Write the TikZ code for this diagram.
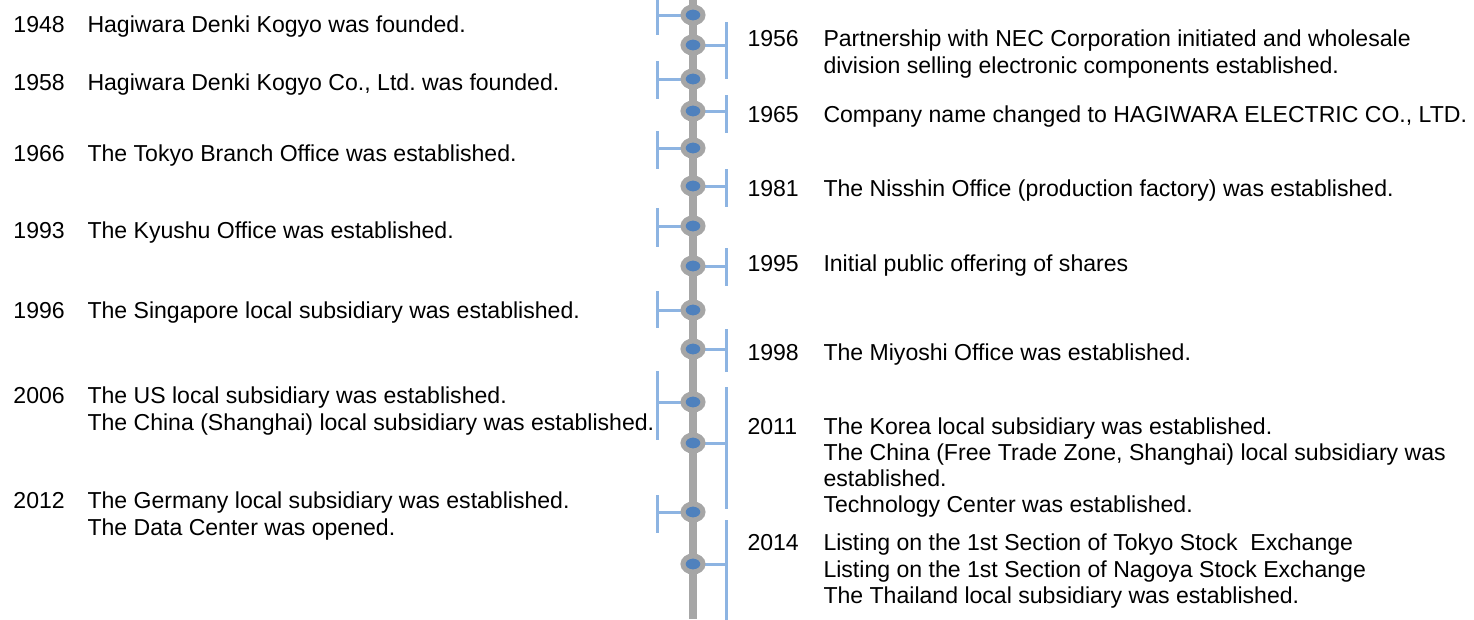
\documentclass[tikz,border=0pt]{standalone}
\usepackage{fontspec}
\setmainfont{Liberation Sans}
\usetikzlibrary{shapes.geometric}
\frenchspacing

\definecolor{spinegray}{RGB}{166,166,166}
\definecolor{dotblue}{RGB}{79,129,189}
\definecolor{brackblue}{RGB}{141,180,226}

\tikzset{every picture/.style={line width=0.75pt}}
\tikzset{
  spine/.style={draw=spinegray, line width=6pt},
  brack/.style={draw=brackblue, line width=2.25pt},
  yeardot/.style={ellipse, draw=spinegray, fill=dotblue, line width=3.75pt, minimum width=15pt, minimum height=12pt, inner sep=0pt},
  entry/.style={anchor=base west, inner sep=0pt, font=\fontsize{17.3pt}{20pt}\selectfont}
}

\begin{document}
\begin{tikzpicture}[x=0.75pt,y=0.75pt,yscale=-1,xscale=1]
		\useasboundingbox (0,0) rectangle (1474,619);

		%the line in the middle
		\draw [spine] (693,0) -- (693,619) ;

		%where the dots sit
		\coordinate (d1) at (693,15);
		\coordinate (d2) at (693,45);
		\coordinate (d3) at (693,79);
		\coordinate (d4) at (693,111);
		\coordinate (d5) at (693,148);
		\coordinate (d6) at (693,186);
		\coordinate (d7) at (693,226);
		\coordinate (d8) at (693,266);
		\coordinate (d9) at (693,310);
		\coordinate (d10) at (693,349);
		\coordinate (d11) at (693,402);
		\coordinate (d12) at (693,443);
		\coordinate (d13) at (693,512);
		\coordinate (d14) at (693,564);

		%brackets on the left
		\draw [brack] (657,-5) -- (657,35) ;
		\draw [brack] (657,15) -- (d1) ;
		\draw [brack] (657,61) -- (657,99) ;
		\draw [brack] (657,79) -- (d3) ;
		\draw [brack] (657,131) -- (657,169) ;
		\draw [brack] (657,148) -- (d5) ;
		\draw [brack] (657,208) -- (657,247) ;
		\draw [brack] (657,226) -- (d7) ;
		\draw [brack] (657,291) -- (657,328) ;
		\draw [brack] (657,310) -- (d9) ;
		\draw [brack] (657,371) -- (657,440) ;
		\draw [brack] (657,402) -- (d11) ;
		\draw [brack] (657,495) -- (657,533) ;
		\draw [brack] (657,512) -- (d13) ;

		%brackets on the right
		\draw [brack] (726,22) -- (726,79) ;
		\draw [brack] (d2) -- (726,45) ;
		\draw [brack] (726,95) -- (726,133) ;
		\draw [brack] (d4) -- (726,111) ;
		\draw [brack] (726,169) -- (726,207) ;
		\draw [brack] (d6) -- (726,186) ;
		\draw [brack] (726,248) -- (726,286) ;
		\draw [brack] (d8) -- (726,266) ;
		\draw [brack] (726,329) -- (726,372) ;
		\draw [brack] (d10) -- (726,349) ;
		\draw [brack] (726,387) -- (726,509) ;
		\draw [brack] (d12) -- (726,443) ;
		\draw [brack] (726,520) -- (726,625) ;
		\draw [brack] (d14) -- (726,564) ;

		%dots
		\node [yeardot] (p1) at (d1) {};
		\node [yeardot] (p2) at (d2) {};
		\node [yeardot] (p3) at (d3) {};
		\node [yeardot] (p4) at (d4) {};
		\node [yeardot] (p5) at (d5) {};
		\node [yeardot] (p6) at (d6) {};
		\node [yeardot] (p7) at (d7) {};
		\node [yeardot] (p8) at (d8) {};
		\node [yeardot] (p9) at (d9) {};
		\node [yeardot] (p10) at (d10) {};
		\node [yeardot] (p11) at (d11) {};
		\node [yeardot] (p12) at (d12) {};
		\node [yeardot] (p13) at (d13) {};
		\node [yeardot] (p14) at (d14) {};

		%left column
		\node [entry] (y1948) at (13,32) {1948};
		\node [entry] (t1948) at (87,32) {Hagiwara Denki Kogyo was founded.};
		\node [entry] (y1958) at (13,90) {1958};
		\node [entry] (t1958) at (87,90) {Hagiwara Denki Kogyo Co., Ltd. was founded.};
		\node [entry] (y1966) at (13,161) {1966};
		\node [entry] (t1966) at (87,161) {The Tokyo Branch Office was established.};
		\node [entry] (y1993) at (13,238) {1993};
		\node [entry] (t1993) at (87,238) {The Kyushu Office was established.};
		\node [entry] (y1996) at (13,318) {1996};
		\node [entry] (t1996) at (87,318) {The Singapore local subsidiary was established.};
		\node [entry] (y2006) at (13,403) {2006};
		\node [entry] (t2006a) at (87,403) {The US local subsidiary was established.};
		\node [entry] (t2006b) at (87,430) {The China (Shanghai) local subsidiary was established.};
		\node [entry] (y2012) at (13,508) {2012};
		\node [entry] (t2012a) at (87,508) {The Germany local subsidiary was established.};
		\node [entry] (t2012b) at (87,535) {The Data Center was opened.};

		%right column
		\node [entry] (y1956) at (747,46) {1956};
		\node [entry] (t1956a) at (823,46) {Partnership with NEC Corporation initiated and wholesale};
		\node [entry] (t1956b) at (823,73) {division selling electronic components established.};
		\node [entry] (y1965) at (747,122) {1965};
		\node [entry] (t1965) at (823,122) {Company name changed to HAGIWARA ELECTRIC CO., LTD.};
		\node [entry] (y1981) at (747,196) {1981};
		\node [entry] (t1981) at (823,196) {The Nisshin Office (production factory) was established.};
		\node [entry] (y1995) at (747,271) {1995};
		\node [entry] (t1995) at (823,271) {Initial public offering of shares};
		\node [entry] (y1998) at (747,360) {1998};
		\node [entry] (t1998) at (823,360) {The Miyoshi Office was established.};
		\node [entry] (y2011) at (747,434) {2011};
		\node [entry] (t2011a) at (823,434) {The Korea local subsidiary was established.};
		\node [entry] (t2011b) at (823,460) {The China (Free Trade Zone, Shanghai) local subsidiary was};
		\node [entry] (t2011c) at (823,486) {established.};
		\node [entry] (t2011d) at (823,512) {Technology Center was established.};
		\node [entry] (y2014) at (747,550) {2014};
		\node [entry] (t2014a) at (823,550) {Listing on the 1st Section of Tokyo Stock~ Exchange};
		\node [entry] (t2014b) at (823,577) {Listing on the 1st Section of Nagoya Stock Exchange};
		\node [entry] (t2014c) at (823,603) {The Thailand local subsidiary was established.};
\end{tikzpicture}
\end{document}
